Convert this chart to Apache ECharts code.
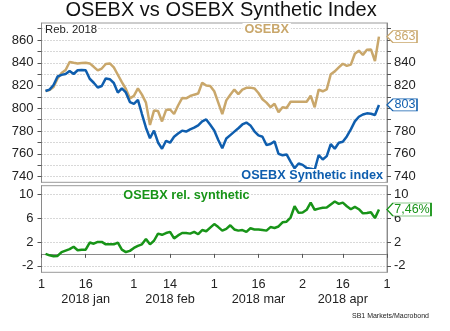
<!DOCTYPE html>
<html><head><meta charset="utf-8">
<script src="https://cdn.jsdelivr.net/npm/echarts@6/dist/echarts.min.js"></script>
<style>html,body{margin:0;padding:0;background:#fff}#c{width:450px;height:331px}</style>
</head><body><div id="c"></div>
<script>
// x categories: weekdays of 2018 (Jan 1 .. May 1)
const weekdays = [
 '01-01','01-02','01-03','01-04','01-05','01-08','01-09','01-10','01-11','01-12',
 '01-15','01-16','01-17','01-18','01-19','01-22','01-23','01-24','01-25','01-26',
 '01-29','01-30','01-31',
 '02-01','02-02','02-05','02-06','02-07','02-08','02-09','02-12','02-13','02-14',
 '02-15','02-16','02-19','02-20','02-21','02-22','02-23','02-26','02-27','02-28',
 '03-01','03-02','03-05','03-06','03-07','03-08','03-09','03-12','03-13','03-14',
 '03-15','03-16','03-19','03-20','03-21','03-22','03-23','03-26','03-27','03-28',
 '03-29','03-30',
 '04-02','04-03','04-04','04-05','04-06','04-09','04-10','04-11','04-12','04-13',
 '04-16','04-17','04-18','04-19','04-20','04-23','04-24','04-25','04-26','04-27',
 '04-30','05-01'
];
const firstDataDay = '01-02';

const osebx = [
 815.2, 816, 818.8, 826.3, 831, 833.7, 840.7, 840, 839.5, 839.8,
 840, 839.5, 836.5, 833.3, 835, 839, 839.5, 836, 829.5, 823,
 817, 808.8, 811, 817.5, 812, 805, 785.4, 798, 797.6, 788.5,
 798.5, 799, 795, 802.5, 809, 808.8, 810.8, 812, 813, 822.5,
 820, 819.6, 815, 805, 795, 807, 812, 816.5, 812.5, 816.5,
 818, 818.2, 817.5, 813.5, 808, 805, 801, 804, 796.5, 801,
 800.3, 805.8, 805.8, 805.8, 805.8, 805.8, 811.1, 800.9, 816.5, 815,
 816.7, 830, 832.5, 836, 839.2, 837.3, 838.4, 848, 850.7, 847,
 851.5, 851.8, 841.6, 863
];
const synthetic = [
 815.2, 816.5, 820.5, 828, 829.4, 830.1, 832.8, 830.2, 833.5, 833.7,
 833.5, 826, 822.5, 818.3, 819.6, 826.3, 825.6, 822.3, 813.8, 817.5,
 814, 805.5, 804, 807.5, 795, 783, 773.7, 780.5, 770, 764.5,
 771.5, 769.8, 775, 777.8, 780.4, 779.6, 781.5, 783, 785, 788.5,
 790.2, 785.5, 780.5, 772.2, 764.9, 773.5, 776.5, 779.5, 782.5, 785.8,
 787.5, 785, 779.8, 776.2, 775, 767.8, 768.7, 771, 760, 758.8,
 759.5, 753.2, 747.3, 751.5, 750.3, 747.5, 747, 746, 759, 755,
 758, 768.5, 764.5, 769.8, 770.6, 775.3, 781.5, 788.5, 792.6, 794.6,
 795.6, 795.3, 794.2, 803
];
const relSynthetic = [
 0, -0.25, -0.4, -0.35, 0.3, 0.55, 0.8, 1.2, 0.6, 0.7,
 0.7, 1.9, 1.7, 2.0, 2.0, 1.6, 1.6, 1.6, 1.9, 0.7,
 0.3, 0.5, 1.0, 1.35, 1.6, 2.5, 1.6, 2.2, 3.4, 3.2,
 3.5, 3.7, 2.6, 3.1, 3.5, 3.5, 3.4, 3.7, 3.3, 4.0,
 3.8, 4.4, 5.0, 4.5, 3.9, 4.2, 4.8, 4.1, 3.9, 4.0,
 3.7, 4.3, 4.1, 4.1, 4.0, 3.9, 4.5, 4.35, 4.6, 5.3,
 5.4, 6.1, 8.0, 6.9, 6.95, 7.4, 8.6, 7.4, 7.6, 7.75,
 7.8, 8.3, 8.8, 8.4, 8.6, 8.0, 7.5, 7.9, 7.5, 6.8,
 6.85, 7.0, 6.0, 7.46
];

// tick labels
const dayTicks = ['01-01','01-16','02-01','02-14','03-01','03-16','04-02','04-16','05-01'];
const monthLabels = {'01-16':'2018 jan','02-14':'2018 feb','03-16':'2018 mar','04-16':'2018 apr'};
const topLabelsLeft = [740, 760, 780, 800, 820, 840, 860];
const topLabelsRight = [740, 760, 780, 820, 840];
const topTicks = [740, 750, 760, 770, 780, 790, 800, 810, 820, 830, 840, 850, 860, 870];
const bottomTicks = [-2, 2, 6, 10];
const tagDay = '05-01';

const GOLD = '#C9A76B', BLUE = '#0F5EAE', GREEN = '#189418';
const FONT = 'Liberation Sans, Arial, sans-serif';
const start = weekdays.indexOf(firstDataDay);
const pairs = arr => arr.map((v, i) => [weekdays[start + i], v]);
const last = arr => arr[arr.length - 1];

function tagPath(w, h) {
  return 'path://M0,' + (h / 2) + 'L6,0L' + w + ',0L' + w + ',' + h + 'L6,' + h + 'Z';
}
function tag(color, w, h, text, value) {
  return {
    symbol: tagPath(w, h), symbolSize: [w, h], symbolOffset: [w / 2, 0], symbolKeepAspect: false,
    itemStyle: { color: '#fff', borderColor: color, borderWidth: 1 },
    label: { show: true, position: 'inside', offset: [3, 0], color: color, fontSize: 12.5, fontFamily: FONT, formatter: () => text },
    data: [{ coord: [tagDay, value], value: value }],
    silent: true, z: 10
  };
}

const grid0 = { left: 41.5, right: 63, top: 23, bottom: 148.7, show: true, borderColor: '#9a9a9a', borderWidth: 1, backgroundColor: 'transparent' };
const grid1 = { left: 41.5, right: 63, top: 185.7, bottom: 58.7, show: true, borderColor: '#9a9a9a', borderWidth: 1, backgroundColor: 'transparent' };

const axisLineStyle = { show: true, lineStyle: { color: '#8a8a8a', width: 1 } };
const tickStyle = { lineStyle: { color: '#555', width: 1 }, length: 4 };
const gridLine = { show: true, lineStyle: { color: '#b0b0b0', width: 1, type: [1, 2] } };
const lbl = { color: '#222', fontSize: 13, fontFamily: FONT };

const option = {
  animation: false,
  textStyle: { fontFamily: FONT },
  grid: [grid0, grid1],
  xAxis: [
    { type: 'category', gridIndex: 0, data: weekdays, boundaryGap: false,
      axisLine: { show: false }, axisTick: { show: false }, axisLabel: { show: false }, splitLine: { show: false } },
    { type: 'category', gridIndex: 1, data: weekdays, boundaryGap: false,
      axisLine: axisLineStyle,
      axisTick: Object.assign({ show: true, interval: (i, v) => dayTicks.includes(v) }, tickStyle),
      axisLabel: { show: true, interval: (i, v) => dayTicks.includes(v), color: '#222', fontSize: 12.7, fontFamily: FONT,
        lineHeight: 15, margin: 5,
        formatter: v => { const d = String(parseInt(v.slice(3), 10)); return monthLabels[v] ? d + '\n' + monthLabels[v] : d; } },
      splitLine: { show: false } }
  ],
  yAxis: [
    { type: 'value', gridIndex: 0, position: 'left', min: 735, max: 875,
      axisLine: axisLineStyle,
      axisTick: Object.assign({ show: true, customValues: topTicks }, tickStyle),
      axisLabel: Object.assign({ customValues: topLabelsLeft, margin: 8 }, lbl),
      splitLine: gridLine },
    { type: 'value', gridIndex: 0, position: 'right', min: 735, max: 875,
      axisLine: axisLineStyle,
      axisTick: Object.assign({ show: true, customValues: topTicks }, tickStyle),
      axisLabel: Object.assign({ customValues: topLabelsRight, margin: 7 }, lbl),
      splitLine: { show: false } },
    { type: 'value', gridIndex: 1, position: 'left', min: -3.1, max: 11.45,
      axisLine: axisLineStyle,
      axisTick: Object.assign({ show: true, customValues: bottomTicks }, tickStyle),
      axisLabel: Object.assign({ customValues: bottomTicks, margin: 8 }, lbl),
      splitLine: gridLine },
    { type: 'value', gridIndex: 1, position: 'right', min: -3.1, max: 11.45,
      axisLine: axisLineStyle,
      axisTick: Object.assign({ show: true, customValues: bottomTicks }, tickStyle),
      axisLabel: Object.assign({ customValues: bottomTicks, margin: 7 }, lbl),
      splitLine: { show: false } }
  ],
  series: [
    { name: 'OSEBX', type: 'line', xAxisIndex: 0, yAxisIndex: 0, data: pairs(osebx), showSymbol: false, clip: false,
      lineStyle: { color: GOLD, width: 2.5 }, itemStyle: { color: GOLD },
      markPoint: tag(GOLD, 30, 12, String(Math.round(last(osebx))), last(osebx)) },
    { name: 'OSEBX Synthetic index', type: 'line', xAxisIndex: 0, yAxisIndex: 0, data: pairs(synthetic), showSymbol: false, clip: false,
      lineStyle: { color: BLUE, width: 2.5 }, itemStyle: { color: BLUE },
      markPoint: tag(BLUE, 30, 12, String(Math.round(last(synthetic))), last(synthetic)) },
    { name: 'OSEBX rel. synthetic', type: 'line', xAxisIndex: 1, yAxisIndex: 2, data: pairs(relSynthetic), showSymbol: false, clip: false,
      lineStyle: { color: GREEN, width: 2.5 }, itemStyle: { color: GREEN },
      markPoint: tag(GREEN, 44, 13, last(relSynthetic).toFixed(2).replace('.', ',') + '%', last(relSynthetic)) }
  ],
  graphic: [
    { type: 'text', z: 100, style: { text: 'OSEBX vs OSEBX Synthetic Index', x: 221, y: 10, textAlign: 'center', textVerticalAlign: 'middle', font: '20px ' + FONT, fill: '#111' } },
    { type: 'text', z: 100, style: { text: 'Reb. 2018', x: 45, y: 30, textAlign: 'left', textVerticalAlign: 'middle', font: '11.3px ' + FONT, fill: '#222', backgroundColor: '#fff' } },
    { type: 'text', z: 100, style: { text: 'OSEBX', x: 266.7, y: 29.5, textAlign: 'center', textVerticalAlign: 'middle', font: 'bold 12.7px ' + FONT, fill: GOLD, backgroundColor: '#fff', padding: [0, 2] } },
    { type: 'text', z: 100, style: { text: 'OSEBX Synthetic index', x: 385, y: 175.5, textAlign: 'right', textVerticalAlign: 'middle', font: 'bold 12.7px ' + FONT, fill: BLUE, backgroundColor: '#fff', padding: [0, 2] } },
    { type: 'text', z: 100, style: { text: 'OSEBX rel. synthetic', x: 123.3, y: 195.7, textAlign: 'left', textVerticalAlign: 'middle', font: 'bold 12.7px ' + FONT, fill: GREEN, backgroundColor: '#fff' } },
    { type: 'text', z: 100, style: { text: 'SB1 Markets/Macrobond', x: 429, y: 316, textAlign: 'right', textVerticalAlign: 'middle', font: '7px ' + FONT, fill: '#222' } }
  ]
};
echarts.init(document.getElementById('c'), null, { renderer: 'canvas' }).setOption(option);
</script></body></html>
